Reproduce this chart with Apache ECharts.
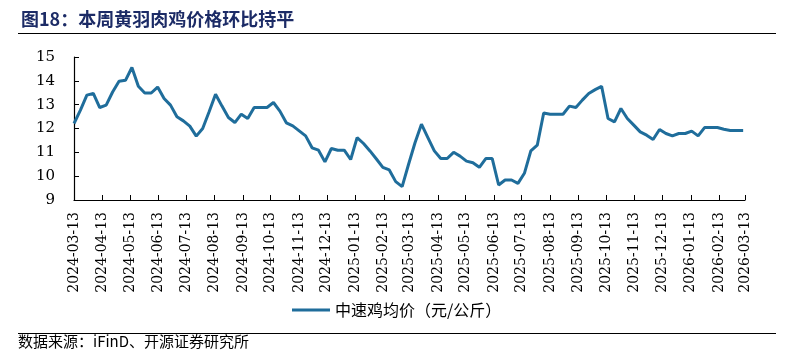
<!DOCTYPE html>
<html>
<head>
<meta charset="utf-8">
<script src="https://cdn.jsdelivr.net/npm/echarts@6/dist/echarts.min.js"></script>
<style>
  html, body { margin: 0; padding: 0; background: #fff; }
  #main { width: 790px; height: 353px; }
</style>
</head>
<body>
<div id="main"></div>
<script>
  // 中速鸡均价，周度，起点 2024-03-13
  var startDate = '2024-03-13';
  var prices = [
    12.21, 12.77, 13.40, 13.47, 12.88, 12.98, 13.53, 13.98, 14.02, 14.56,
    13.77, 13.49, 13.49, 13.74, 13.26, 12.98, 12.49, 12.32, 12.10, 11.68,
    12.00, 12.70, 13.44, 12.94, 12.46, 12.25, 12.60, 12.42, 12.88, 12.88,
    12.88, 13.09, 12.73, 12.24, 12.11, 11.90, 11.69, 11.19, 11.09, 10.60,
    11.16, 11.09, 11.09, 10.70, 11.62, 11.37, 11.06, 10.72, 10.37, 10.26,
    9.77, 9.56, 10.50, 11.40, 12.18, 11.62, 11.06, 10.74, 10.74, 11.00,
    10.84, 10.63, 10.56, 10.37, 10.74, 10.74, 9.63, 9.84, 9.84, 9.70,
    10.12, 11.06, 11.30, 12.65, 12.60, 12.60, 12.60, 12.94, 12.88, 13.19,
    13.47, 13.63, 13.77, 12.42, 12.28, 12.84, 12.42, 12.14, 11.86, 11.72,
    11.54, 11.96, 11.79, 11.69, 11.79, 11.79, 11.89, 11.69, 12.04, 12.04,
    12.04, 11.97, 11.92, 11.92, 11.92
  ];
  var tickLabels = [
    '2024-03-13', '2024-04-13', '2024-05-13', '2024-06-13', '2024-07-13',
    '2024-08-13', '2024-09-13', '2024-10-13', '2024-11-13', '2024-12-13',
    '2025-01-13', '2025-02-13', '2025-03-13', '2025-04-13', '2025-05-13',
    '2025-06-13', '2025-07-13', '2025-08-13', '2025-09-13', '2025-10-13',
    '2025-11-13', '2025-12-13', '2026-01-13', '2026-02-13', '2026-03-13'
  ];
  var yTicks = [9, 10, 11, 12, 13, 14, 15];

  // 以天为单位的横轴（相对起始日）
  var DAY = 86400000;
  function dayOf(s) { return Math.round((Date.UTC(+s.slice(0, 4), +s.slice(5, 7) - 1, +s.slice(8, 10)) - Date.UTC(2024, 2, 13)) / DAY); }

  var d0 = dayOf(startDate);
  var seriesData = prices.map(function (v, i) { return [d0 + i * 7, v]; });
  var tickDays = tickLabels.map(dayOf);
  var labelMap = {};
  tickDays.forEach(function (d, i) { labelMap[d] = tickLabels[i]; });

  var lineColor = '#1f6d9b';
  var serif = 'DejaVu Serif';
  var cjk = 'Noto Sans CJK SC, sans-serif';

  var myChart = echarts.init(document.getElementById('main'));
  myChart.setOption({
    animation: false,
    backgroundColor: '#fff',
    title: {
      text: '图18：本周黄羽肉鸡价格环比持平',
      left: 16,
      top: 5,
      textStyle: { fontFamily: cjk, fontSize: 18, fontWeight: 'bold', color: '#1c2b66' }
    },
    graphic: [
      { type: 'line', shape: { x1: 18, y1: 33.5, x2: 776, y2: 33.5 }, style: { stroke: '#000', lineWidth: 1.2 } },
      { type: 'line', shape: { x1: 18, y1: 333.5, x2: 776, y2: 333.5 }, style: { stroke: '#000', lineWidth: 1.2 } },
      {
        type: 'text', left: 18, top: 334,
        style: { text: '数据来源：iFinD、开源证券研究所', font: '15px Noto Sans CJK SC', fill: '#000' }
      }
    ],
    legend: {
      left: 287,
      top: 297,
      icon: 'rect',
      itemWidth: 38,
      itemHeight: 3,
      itemGap: 6,
      textStyle: { fontFamily: cjk, fontSize: 16, color: '#000' },
      data: ['中速鸡均价（元/公斤）']
    },
    grid: { left: 74, right: 45, top: 57, bottom: 153 },
    xAxis: {
      type: 'value',
      min: tickDays[0],
      max: tickDays[tickDays.length - 1],
      axisLine: { lineStyle: { color: '#000', width: 1.2 } },
      axisTick: { inside: true, length: 5, customValues: tickDays, lineStyle: { color: '#000' } },
      axisLabel: {
        customValues: tickDays,
        rotate: 90,
        margin: 12,
        fontFamily: serif,
        fontSize: 14,
        color: '#000',
        hideOverlap: false,
        formatter: function (v) { return labelMap[v] || ''; }
      },
      splitLine: { show: false }
    },
    yAxis: {
      type: 'value',
      min: yTicks[0],
      max: yTicks[yTicks.length - 1],
      interval: 1,
      axisLine: { show: true, lineStyle: { color: '#000', width: 1.2 } },
      axisTick: { show: true, inside: true, length: 5, lineStyle: { color: '#000' } },
      axisLabel: { margin: 19, fontFamily: serif, fontSize: 15, color: '#000' },
      splitLine: { show: false }
    },
    series: [{
      name: '中速鸡均价（元/公斤）',
      type: 'line',
      data: seriesData,
      showSymbol: false,
      lineStyle: { color: lineColor, width: 3 },
      itemStyle: { color: lineColor }
    }]
  });
</script>
</body>
</html>
